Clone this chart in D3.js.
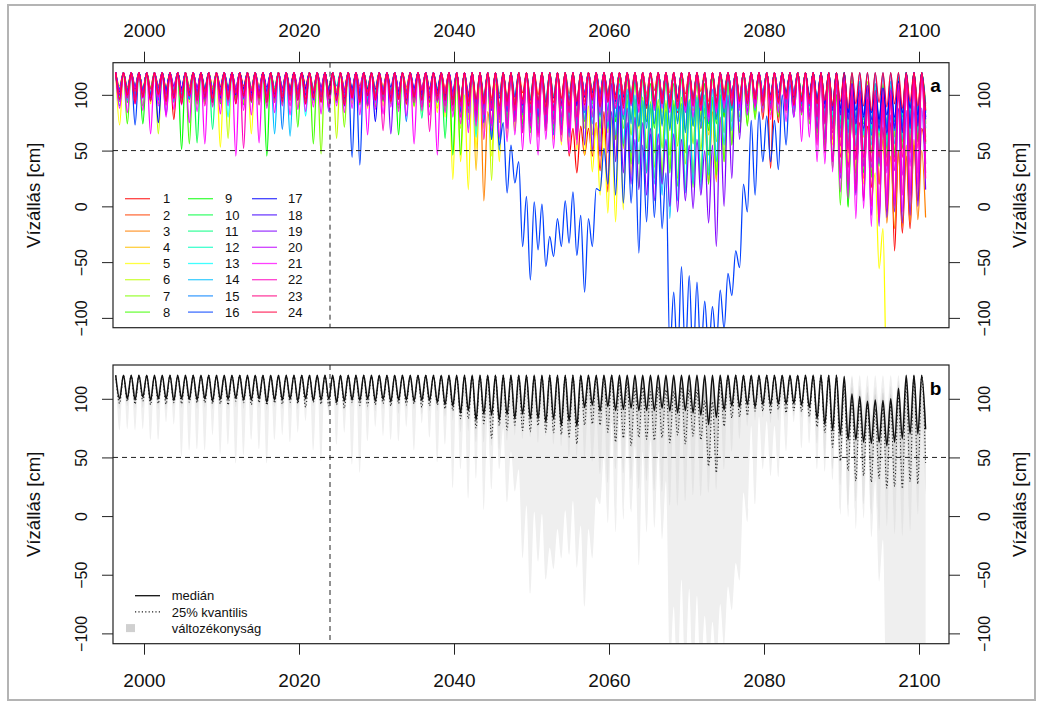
<!DOCTYPE html>
<html lang="hu">
<head>
<meta charset="UTF-8"/>
<title>Vízállás 1996-2100</title>
<script src="https://d3js.org/d3.v7.min.js"></script>
<style>
    body { margin: 0; background: #fff; }
    svg { display: block; }
</style>
</head>
<body>
<script>
    // years on the x axis, one seasonal cycle per year
    var firstYear = 1996;
    var lastYear = 2100;
    var spill = 120;        // annual maximum when the lake is full
    var maxFrom = 2040;     // the max arrays below start in this year
    var nowYear = 2024;     // vertical dashed line
    var critical = 50;      // horizontal dashed line
    var xTicks = [2000, 2020, 2040, 2060, 2080, 2100];
    var yTicks = [-100, -50, 0, 50, 100];
    var seriesNames = d3.range(1, 25).map(String);
    var statNames = ["medián", "25% kvantilis", "változékonyság"];

    // annual minimum water level [cm] of each run, 1996..2100
    var min01 = [104, 99, 106, 101, 97, 108, 100, 78, 103, 98,
        105, 100, 96, 107, 102, 99, 104, 95, 106, 100,
        98, 105, 101, 97, 108, 103, 99, 104, 96, 102,
        100, 95, 106, 101, 98, 104, 97, 103, 99, 105,
        101, 96, 104, 99, 92, 98, 88, 95, 90, 86,
        93, 85, 91, 88, 80, 84, 83, 78, 45, 30,
        46, 45, 32, 13, 60, 88, 92, 85, 94, 90,
        96, 88, 84, 95, 90, 92, 86, 80, 91, 95,
        89, 93, 85, 78, 34, 75, 88, 92, 90, 95,
        82, 78, 60, 44, 35, 30, 25, 17, 20, -5,
        -40, -24, -20, 5, 48];
    var min02 = [106, 103, 108, 104, 101, 107, 105, 102, 96, 104,
        101, 106, 103, 99, 105, 102, 108, 104, 100, 97,
        105, 102, 107, 101, 104, 99, 106, 103, 101, 105,
        102, 108, 100, 104, 106, 101, 103, 107, 99, 104,
        106, 102, 105, 100, 96, 102, 94, 99, 97, 101,
        98, 95, 102, 97, 100, 94, 99, 96, 101, 92,
        101, 104, 97, 102, 96, 100, 103, 98, 101, 104,
        99, 102, 96, 101, 98, 103, 94, 99, 104, 100,
        99, 102, 97, 100, 95, 101, 98, 103, 99, 96,
        94, 92, 90, 88, 84, 80, 78, 78, 76, 74,
        76, 80, 84, 88, 92];
    var min03 = [103, 107, 100, 105, 102, 98, 106, 103, 100, 104,
        99, 104, 107, 101, 97, 105, 102, 106, 103, 100,
        104, 101, 97, 106, 102, 105, 100, 103, 98, 104,
        101, 97, 104, 100, 106, 98, 103, 101, 96, 102,
        99, 103, 95, 90, 84, 78, 70, 5, 60, 75,
        82, 88, 80, 76, 85, 79, 83, 74, 80, 77,
        98, 100, 94, 98, 96, 100, 98, 92, 100, 96,
        98, 92, 96, 90, 86, 70, 20, 24, 80, 92,
        94, 96, 92, 98, 94, 97, 99, 95, 97, 93,
        80, 76, 70, 62, 55, 48, 40, 30, 20, -15,
        -20, -18, -15, -12, -10];
    var min04 = [108, 104, 106, 102, 107, 104, 100, 106, 103, 108,
        104, 102, 106, 108, 103, 100, 105, 102, 107, 104,
        101, 106, 104, 102, 107, 103, 105, 100, 104, 106,
        103, 100, 105, 107, 102, 104, 99, 106, 103, 101,
        104, 98, 100, 92, 86, 80, 32, 70, 62, 78,
        85, 80, 88, 84, 90, 86, 82, 88, 85, 80,
        100, 96, 102, 98, 94, 100, 92, 98, 95, 90,
        96, 92, 88, 94, 86, 80, 64, 22, 82, 94,
        96, 98, 94, 100, 96, 99, 101, 97, 99, 95,
        88, 84, 82, 78, 74, 70, 68, 66, 64, 62,
        64, 68, 72, 70, 76];
    var min05 = [73, 98, 94, 100, 92, 96, 90, 98, 93, 97,
        91, 95, 99, 53, 94, 97, 92, 65, 96, 90,
        95, 92, 97, 89, 96, 93, 98, 91, 94, 90,
        96, 92, 88, 95, 90, 93, 87, 94, 89, 85,
        90, 84, 80, 24, 40, 15, 52, 60, 45, 40,
        62, 70, 66, 72, 64, 68, 60, 55, 58, 50,
        46, 31, 10, -6, -14, -3, 28, 70, 80, 88,
        84, 90, 86, 92, 88, 82, 76, 84, 90, 94,
        92, 95, 96, 98, 94, 97, 95, 99, 96, 92,
        70, 62, 55, 48, 40, 30, 20, 5, -56, -160,
        -170, -180, -185, -190, -195];
    var min06 = [96, 100, 92, 98, 94, 65, 99, 95, 101, 93,
        97, 92, 100, 95, 61, 98, 94, 99, 91, 96,
        93, 99, 95, 101, 92, 97, 94, 88, 61, 96,
        92, 98, 94, 90, 97, 93, 99, 91, 95, 89,
        94, 88, 92, 85, 70, 78, 65, 72, 23, 60,
        74, 68, 76, 70, 78, 72, 66, 74, 68, 62,
        70, 64, 58, 66, 40, 52, 45, 38, 30, 35,
        28, 34, 25, 38, 30, 22, 32, 28, 40, 55,
        66, 74, 80, 86, 82, 88, 84, 90, 86, 82,
        78, 75, 72, 68, 64, 66, 62, 60, 64, 60,
        64, 66, 70, 72, 74];
    var min07 = [99, 102, 96, 104, 100, 97, 103, 99, 95, 101,
        98, 104, 100, 96, 102, 99, 105, 97, 101, 95,
        100, 96, 103, 98, 101, 97, 47, 99, 94, 71,
        98, 102, 95, 100, 97, 103, 96, 99, 101, 94,
        98, 95, 100, 92, 88, 94, 82, 90, 86, 80,
        88, 82, 90, 84, 78, 86, 80, 75, 82, 76,
        88, 92, 86, 82, 76, 70, 64, 58, 52, 48,
        52, 46, 54, 48, 56, 50, 46, 58, 66, 76,
        80, 86, 90, 94, 96, 98, 94, 96, 98, 95,
        86, 82, 78, 74, 70, 66, 64, 68, 62, 60,
        62, 68, 72, 70, 74];
    var min08 = [94, 74, 97, 90, 95, 92, 98, 93, 96, 56,
        92, 97, 90, 95, 93, 98, 91, 96, 94, 90,
        95, 91, 97, 71, 93, 56, 96, 90, 95, 92,
        97, 91, 94, 89, 96, 92, 88, 95, 90, 93,
        89, 94, 86, 90, 46, 84, 78, 82, 75, 80,
        72, 78, 70, 66, 74, 68, 72, 64, 70, 66,
        76, 80, 70, 72, 60, 54, 38, 17, 30, 25,
        22, 30, 18, 15, 17, 26, 20, 28, 40, 55,
        66, 72, 78, 84, 86, 80, 88, 84, 82, 74,
        60, 50, 34, 1, -1, 20, 36, 48, 42, 52,
        48, 58, 52, 60, 56];
    var min09 = [97, 93, 99, 74, 95, 100, 94, 97, 51, 96,
        99, 94, 97, 92, 100, 95, 98, 93, 96, 45,
        97, 93, 99, 95, 92, 98, 94, 100, 96, 93,
        99, 95, 92, 97, 94, 100, 64, 96, 93, 98,
        94, 97, 90, 46, 80, 86, 78, 84, 72, 80,
        76, 82, 74, 70, 78, 72, 68, 76, 70, 64,
        86, 82, 84, 80, 76, 80, 78, 72, 76, 70,
        74, 70, 76, 68, 72, 76, 68, 74, 80, 86,
        88, 90, 92, 94, 96, 92, 96, 94, 90, 86,
        66, 55, 40, 30, 0, 12, 30, 26, 36, 44,
        44, 52, 50, 58, 62];
    var min10 = [101, 105, 99, 103, 106, 100, 104, 98, 102, 105,
        57, 101, 105, 99, 103, 106, 100, 104, 98, 102,
        105, 100, 103, 98, 104, 101, 99, 105, 102, 98,
        104, 100, 106, 99, 103, 97, 105, 101, 98, 104,
        100, 96, 61, 98, 90, 95, 86, 92, 88, 84,
        90, 86, 82, 88, 84, 80, 86, 78, 84, 80,
        98, 102, 96, 100, 94, 98, 92, 97, 94, 90,
        96, 90, 94, 88, 92, 90, 84, 90, 96, 99,
        96, 99, 97, 100, 98, 95, 99, 97, 98, 94,
        86, 82, 80, 76, 72, 68, 74, 70, 74, 72,
        76, 80, 84, 82, 88];
    var min11 = [100, 104, 98, 103, 101, 105, 99, 102, 106, 100,
        103, 98, 69, 104, 100, 102, 97, 105, 101, 99,
        102, 106, 100, 97, 103, 99, 104, 101, 98, 103,
        99, 104, 101, 97, 103, 100, 96, 102, 98, 79,
        101, 97, 94, 99, 92, 88, 94, 86, 90, 85,
        88, 84, 90, 82, 86, 80, 84, 88, 82, 78,
        98, 94, 100, 96, 92, 98, 90, 96, 88, 94,
        94, 97, 90, 95, 92, 96, 88, 94, 99, 101,
        94, 96, 92, 98, 94, 99, 95, 97, 92, 90,
        86, 82, 80, 76, 72, 70, 66, 64, 68, 66,
        70, 72, 76, 80, 84];
    var min12 = [106, 102, 108, 104, 101, 107, 103, 105, 100, 106,
        103, 107, 101, 105, 108, 102, 104, 100, 106, 103,
        107, 101, 105, 103, 99, 106, 102, 104, 108, 101,
        105, 102, 107, 100, 104, 106, 101, 103, 99, 105,
        102, 106, 98, 103, 96, 100, 92, 98, 94, 99,
        95, 100, 93, 97, 91, 96, 99, 92, 97, 94,
        102, 98, 101, 96, 100, 97, 102, 94, 99, 96,
        100, 94, 98, 92, 96, 90, 88, 94, 98, 101,
        98, 101, 97, 102, 98, 101, 97, 103, 99, 96,
        96, 92, 90, 86, 84, 80, 78, 76, 80, 74,
        78, 82, 86, 84, 90];
    var min13 = [102, 98, 104, 100, 96, 103, 99, 105, 101, 97,
        104, 100, 98, 103, 80, 101, 97, 104, 99, 102,
        98, 103, 100, 96, 81, 102, 99, 95, 103, 100,
        97, 102, 99, 104, 98, 95, 101, 97, 103, 99,
        96, 100, 94, 98, 88, 70, 62, 80, 86, 90,
        92, 88, 94, 86, 90, 84, 88, 92, 86, 82,
        102, 98, 97, 100, 94, 98, 92, 97, 90, 94,
        90, 93, 86, 92, 88, 92, 82, 88, 95, 99,
        95, 97, 98, 100, 96, 101, 97, 99, 95, 93,
        90, 86, 82, 78, 72, 68, 64, 70, 66, 72,
        70, 76, 80, 78, 84];
    var min14 = [99, 95, 101, 97, 102, 96, 100, 94, 98, 103,
        97, 101, 95, 99, 93, 100, 96, 102, 98, 94,
        65, 99, 63, 97, 101, 95, 100, 96, 93, 99,
        95, 100, 97, 93, 99, 96, 101, 94, 98, 92,
        97, 93, 95, 90, 84, 88, 80, 86, 60, 82,
        84, 80, 86, 78, 82, 76, 80, 74, 78, 72,
        78, 74, 80, 70, 64, 56, 48, 38, 30, 20,
        10, -11, 5, 12, 20, 15, 28, 40, 55, 68,
        76, 82, 86, 88, 90, 85, 92, 88, 86, 82,
        78, 74, 70, 64, 58, 54, 50, 55, 50, 54,
        56, 60, 64, 66, 70];
    var min15 = [90, 101, 97, 103, 99, 95, 102, 98, 100, 96,
        102, 98, 94, 100, 97, 103, 99, 95, 101, 97,
        99, 69, 101, 96, 100, 97, 102, 85, 99, 95,
        101, 97, 94, 100, 96, 102, 98, 76, 100, 95,
        99, 95, 97, 92, 86, 90, 82, 88, 74, 50,
        70, 76, 68, 72, 66, 70, 64, 68, 62, 66,
        84, 88, 82, 86, 80, 78, 74, 72, 70, 74,
        72, 68, 74, 66, 72, 70, 74, 78, 84, 88,
        90, 92, 94, 96, 92, 97, 94, 96, 92, 90,
        80, 76, 74, 70, 66, 64, 68, 64, 68, 64,
        68, 72, 70, 76, 80];
    var min16 = [100, 104, 73, 102, 98, 105, 101, 97, 103, 99,
        104, 100, 96, 103, 99, 105, 101, 98, 104, 100,
        97, 103, 99, 105, 100, 96, 102, 98, 95, 90,
        44, 37, 90, 98, 102, 97, 100, 95, 99, 96,
        101, 97, 94, 98, 85, 90, 80, 75, 60, 55,
        12, 21, -36, -66, -39, -54, -45, -36, -33, -44,
        -77, -36, 14, 20, 10, 3, 3, -42, -14, -10,
        -20, -130, -140, -135, -140, -135, -130, -125, -110, -80,
        -55, -5, 10, 40, 40, 33, 55, 80, 95, 100,
        96, 92, 88, 84, 80, 76, 82, 78, 74, 70,
        72, 66, 70, 75, 80];
    var min17 = [103, 99, 105, 101, 97, 75, 104, 100, 106, 102,
        98, 105, 101, 97, 104, 100, 106, 102, 99, 103,
        101, 97, 104, 100, 106, 102, 98, 104, 100, 97,
        103, 99, 105, 76, 101, 97, 104, 100, 106, 102,
        98, 104, 100, 96, 92, 98, 88, 94, 90, 86,
        92, 88, 94, 86, 90, 84, 88, 92, 86, 90,
        98, 102, 96, 100, 94, 98, 92, 96, 90, 94,
        96, 92, 97, 90, 94, 92, 86, 92, 97, 100,
        94, 96, 98, 95, 100, 96, 102, 98, 94, 97,
        95, 92, 90, 88, 84, 86, 80, 84, 78, 82,
        80, 84, 88, 82, 86];
    var min18 = [105, 101, 107, 103, 100, 106, 102, 108, 104, 100,
        106, 103, 100, 107, 104, 101, 105, 99, 103, 107,
        102, 106, 104, 100, 105, 101, 107, 103, 99, 104,
        106, 102, 100, 105, 101, 107, 103, 99, 104, 100,
        105, 101, 98, 103, 94, 99, 90, 96, 92, 97,
        94, 98, 91, 95, 89, 93, 97, 90, 95, 92,
        102, 98, 101, 96, 100, 94, 98, 92, 96, 91,
        99, 94, 97, 90, 96, 92, 88, 94, 99, 101,
        95, 98, 95, 100, 97, 102, 99, 101, 97, 94,
        92, 88, 86, 82, 78, 74, 70, 74, 70, 66,
        70, 68, 74, 72, 78];
    var min19 = [100, 104, 98, 102, 99, 103, 82, 101, 97, 104,
        100, 96, 103, 99, 105, 101, 97, 103, 100, 96,
        102, 98, 104, 100, 96, 103, 99, 101, 97, 102,
        98, 104, 100, 96, 102, 65, 99, 103, 97, 101,
        97, 102, 95, 99, 90, 94, 84, 90, 86, 82,
        85, 80, 84, 76, 80, 74, 78, 70, 66, 60,
        55, 50, 45, 48, 40, 30, 20, 15, 10, 5,
        20, 0, -5, 5, -2, 10, -15, -36, 0, 25,
        60, 85, 90, 94, 88, 92, 86, 90, 84, 80,
        70, 60, 40, 25, 15, 10, 5, -8, -18, -10,
        -5, -15, -8, 0, 15];
    var min20 = [104, 100, 106, 102, 98, 105, 101, 107, 103, 99,
        105, 101, 98, 104, 100, 106, 102, 98, 105, 101,
        99, 104, 100, 106, 102, 98, 105, 101, 97, 103,
        100, 106, 102, 98, 104, 100, 105, 99, 103, 106,
        101, 97, 103, 99, 92, 96, 88, 94, 90, 86,
        90, 86, 92, 84, 88, 82, 86, 80, 84, 78,
        100, 96, 98, 94, 97, 92, 95, 90, 94, 88,
        92, 88, 91, 84, 90, 86, 80, 86, 92, 97,
        94, 96, 98, 100, 96, 99, 96, 100, 95, 92,
        84, 78, 70, 62, 52, 42, 36, 35, 38, 30,
        32, 28, 36, 30, 38];
    var min21 = [88, 84, 92, 86, 65, 90, 80, 87, 91, 75,
        85, 56, 89, 83, 90, 45, 86, 82, 57, 88,
        84, 90, 82, 87, 85, 89, 83, 86, 90, 84,
        88, 82, 64, 87, 83, 89, 85, 81, 56, 86,
        82, 46, 84, 80, 74, 66, 72, 60, 68, 62,
        58, 64, 50, 56, 46, 60, 52, 58, 48, 55,
        86, 80, 84, 76, 88, 82, 90, 84, 92, 86,
        88, 84, 90, 86, 80, 86, 76, 84, 88, 92,
        86, 82, 88, 84, 78, 84, 76, 80, 58, 62,
        40, 38, 31, 13, 7, -11, -2, -18, -14, -2,
        5, -5, 10, 20, 30];
    var min22 = [95, 99, 92, 97, 94, 98, 91, 96, 93, 99,
        94, 90, 97, 93, 98, 92, 52, 95, 91, 97,
        93, 98, 90, 96, 92, 97, 94, 89, 96, 92,
        97, 93, 90, 96, 68, 94, 91, 97, 93, 89,
        67, 94, 90, 86, 80, 84, 76, 82, 74, 78,
        70, 76, 66, 72, 62, 68, 74, 64, 70, 60,
        94, 98, 90, 96, 88, 94, 98, 90, 95, 92,
        96, 92, 88, 95, 90, 86, 82, 88, 94, 97,
        92, 95, 90, 93, 88, 92, 86, 90, 84, 78,
        55, 48, 40, 30, 20, 14, 6, 0, -10, 5,
        0, 10, 5, 15, 25];
    var min23 = [101, 97, 103, 99, 105, 100, 96, 102, 98, 104,
        99, 103, 97, 101, 95, 102, 98, 104, 100, 96,
        103, 99, 95, 101, 97, 104, 100, 96, 102, 98,
        100, 96, 103, 99, 95, 101, 97, 102, 98, 104,
        99, 95, 101, 96, 90, 94, 86, 92, 88, 84,
        90, 86, 92, 84, 88, 82, 86, 90, 84, 80,
        100, 98, 94, 99, 96, 101, 92, 98, 94, 90,
        96, 92, 88, 94, 90, 86, 84, 90, 96, 99,
        96, 98, 100, 95, 98, 93, 96, 99, 95, 92,
        80, 74, 66, 54, 48, 42, 44, 40, 44, 36,
        40, 44, 48, 52, 58];
    var min24 = [96, 100, 93, 98, 95, 101, 94, 97, 92, 99,
        95, 98, 93, 100, 96, 92, 99, 94, 97, 93,
        98, 94, 100, 95, 92, 97, 93, 99, 95, 91,
        97, 93, 99, 95, 100, 94, 96, 92, 98, 95,
        93, 99, 95, 91, 94, 90, 96, 92, 95, 90,
        94, 91, 96, 92, 95, 89, 93, 97, 90, 94,
        91, 95, 89, 93, 96, 90, 94, 92, 88, 95,
        92, 89, 94, 90, 96, 91, 87, 93, 95, 90,
        94, 92, 96, 90, 95, 93, 97, 91, 94, 96,
        92, 95, 90, 94, 88, 92, 90, 86, 93, 89,
        92, 88, 94, 90, 86];

    // annual maximum [cm], 2040..2100, for the runs that do not refill to the spill level
    var max01 = [120, 120, 120, 120, 120, 120, 120, 120, 120, 120,
        120, 120, 120, 120, 120, 70, 72, 70, 75, 85,
        120, 120, 120, 120, 120, 120, 120, 120, 120, 120,
        120, 120, 120, 120, 120, 120, 120, 120, 120, 120,
        120, 120, 120, 120, 120, 120, 120, 120, 110, 100,
        95, 80, 75, 72, 78, 71, 75, 50, 45, 55,
        70];
    var max02 = [120, 120, 120, 120, 120, 120, 120, 120, 120, 120,
        120, 120, 120, 120, 120, 120, 120, 120, 120, 120,
        120, 120, 120, 120, 120, 120, 120, 120, 120, 120,
        120, 120, 120, 120, 120, 120, 120, 120, 120, 120,
        120, 120, 120, 120, 120, 120, 120, 120, 120, 120,
        120, 104, 96, 100, 94, 98, 100, 110, 120, 120,
        120];
    var max03 = [120, 120, 120, 120, 85, 120, 120, 120, 120, 120,
        120, 120, 120, 120, 120, 120, 120, 120, 120, 120,
        120, 120, 120, 120, 120, 120, 120, 120, 120, 120,
        120, 110, 80, 85, 120, 120, 120, 120, 120, 120,
        120, 120, 120, 120, 120, 120, 120, 120, 120, 120,
        120, 115, 105, 95, 80, 60, 45, 50, 55, 60,
        50];
    var max04 = [120, 120, 120, 120, 120, 120, 120, 120, 120, 120,
        120, 120, 120, 120, 120, 120, 120, 120, 120, 120,
        120, 120, 120, 120, 120, 120, 120, 120, 120, 120,
        120, 120, 110, 95, 120, 120, 120, 120, 120, 120,
        120, 120, 120, 120, 120, 120, 120, 120, 120, 120,
        120, 100, 92, 95, 90, 94, 96, 105, 120, 120,
        120];
    var max05 = [120, 100, 120, 120, 120, 110, 120, 120, 120, 120,
        120, 120, 120, 120, 120, 120, 120, 90, 75, 70,
        80, 85, 120, 120, 120, 120, 120, 120, 120, 120,
        120, 120, 120, 120, 120, 120, 120, 120, 120, 120,
        120, 120, 120, 120, 120, 120, 120, 120, 120, 120,
        120, 120, 110, 90, 30, -20, -150, -160, -165, -170,
        -175];
    var max06 = [120, 120, 120, 120, 120, 120, 120, 120, 120, 120,
        120, 120, 120, 120, 120, 120, 120, 120, 120, 120,
        120, 120, 100, 95, 90, 92, 88, 95, 90, 92,
        88, 90, 92, 95, 100, 120, 120, 120, 120, 120,
        120, 120, 120, 120, 120, 120, 120, 120, 120, 120,
        120, 115, 110, 112, 106, 110, 104, 108, 120, 120,
        120];
    var max07 = [120, 120, 120, 120, 120, 120, 120, 120, 120, 120,
        120, 120, 120, 120, 120, 120, 120, 120, 120, 110,
        110, 105, 100, 96, 98, 94, 96, 92, 95, 98,
        96, 100, 94, 98, 105, 120, 120, 120, 120, 120,
        120, 120, 120, 120, 120, 120, 120, 120, 120, 120,
        120, 110, 108, 105, 110, 104, 108, 112, 120, 120,
        120];
    var max08 = [120, 120, 120, 120, 120, 120, 120, 120, 120, 120,
        120, 120, 120, 120, 120, 120, 120, 120, 120, 120,
        110, 100, 95, 90, 92, 88, 90, 86, 92, 88,
        90, 94, 88, 96, 100, 110, 120, 120, 120, 120,
        120, 120, 120, 120, 120, 120, 120, 120, 110, 100,
        95, 100, 104, 105, 100, 108, 104, 115, 120, 120,
        120];
    var max09 = [120, 120, 120, 120, 120, 120, 120, 120, 120, 120,
        120, 120, 120, 120, 120, 120, 120, 120, 120, 120,
        120, 115, 118, 112, 114, 110, 115, 112, 110, 114,
        112, 116, 110, 115, 118, 120, 120, 120, 120, 120,
        120, 120, 120, 120, 120, 120, 120, 120, 120, 110,
        100, 98, 102, 96, 104, 100, 106, 110, 120, 120,
        120];
    var max10 = [120, 120, 120, 120, 120, 120, 120, 120, 120, 120,
        120, 120, 120, 120, 120, 120, 120, 120, 120, 120,
        120, 120, 120, 120, 120, 120, 120, 120, 120, 120,
        120, 120, 120, 120, 120, 120, 120, 120, 120, 120,
        120, 120, 120, 120, 120, 120, 120, 120, 120, 120,
        120, 104, 100, 102, 95, 99, 98, 108, 120, 120,
        120];
    var max11 = [120, 120, 120, 120, 120, 120, 120, 120, 120, 120,
        120, 120, 120, 120, 120, 120, 120, 120, 120, 120,
        120, 120, 120, 120, 120, 120, 120, 120, 120, 120,
        120, 120, 120, 120, 120, 120, 120, 120, 120, 120,
        120, 120, 120, 120, 120, 120, 120, 120, 120, 120,
        115, 98, 94, 96, 92, 95, 96, 104, 120, 120,
        120];
    var max12 = [120, 120, 120, 120, 120, 120, 120, 120, 120, 120,
        120, 120, 120, 120, 120, 120, 120, 120, 120, 120,
        120, 120, 120, 120, 120, 120, 120, 120, 120, 120,
        120, 120, 120, 120, 120, 120, 120, 120, 120, 120,
        120, 120, 120, 120, 120, 120, 120, 120, 120, 120,
        120, 106, 100, 98, 102, 96, 100, 112, 120, 120,
        120];
    var max13 = [120, 120, 120, 120, 120, 120, 120, 120, 120, 120,
        120, 120, 120, 120, 120, 120, 120, 120, 120, 120,
        120, 120, 120, 120, 120, 120, 120, 120, 120, 120,
        120, 120, 120, 120, 120, 120, 120, 120, 120, 120,
        120, 120, 120, 120, 120, 120, 120, 120, 120, 120,
        118, 102, 100, 96, 98, 96, 102, 110, 120, 120,
        120];
    var max14 = [120, 120, 120, 120, 120, 120, 120, 120, 120, 120,
        120, 120, 120, 120, 120, 120, 120, 120, 120, 120,
        120, 110, 105, 100, 95, 92, 88, 85, 90, 92,
        95, 98, 100, 105, 110, 120, 120, 120, 120, 120,
        120, 120, 120, 120, 120, 120, 120, 120, 120, 120,
        120, 110, 112, 108, 110, 106, 112, 116, 120, 120,
        120];
    var max15 = [120, 120, 120, 120, 120, 120, 120, 120, 120, 120,
        120, 120, 120, 120, 120, 120, 120, 120, 120, 120,
        120, 120, 120, 120, 120, 120, 120, 120, 120, 120,
        120, 120, 120, 120, 120, 120, 120, 120, 120, 120,
        120, 120, 120, 120, 120, 120, 120, 120, 120, 120,
        116, 104, 98, 102, 96, 100, 98, 106, 120, 120,
        120];
    var max16 = [120, 120, 120, 120, 120, 120, 75, 55, 40, 9,
        4, 2, -27, -11, 5, 13, -8, -11, 16, 52,
        85, 90, 75, 60, 55, 65, 55, 30, -77, -54,
        -62, -68, -85, -90, -75, -60, -40, 20, 77, 85,
        81, 77, 100, 110, 120, 120, 120, 120, 120, 120,
        120, 120, 120, 120, 120, 120, 120, 120, 120, 120,
        120];
    var max17 = [120, 120, 120, 120, 120, 120, 120, 120, 120, 120,
        120, 120, 120, 120, 120, 120, 120, 120, 120, 120,
        120, 120, 120, 120, 120, 120, 120, 120, 120, 120,
        120, 120, 120, 120, 120, 120, 120, 120, 120, 120,
        120, 120, 120, 120, 120, 120, 120, 120, 120, 120,
        120, 110, 104, 108, 100, 106, 104, 112, 120, 120,
        120];
    var max18 = [120, 120, 120, 120, 120, 120, 120, 120, 120, 120,
        120, 120, 120, 120, 120, 120, 120, 120, 120, 120,
        120, 120, 120, 120, 120, 120, 120, 120, 120, 120,
        120, 120, 120, 120, 120, 120, 120, 120, 120, 120,
        120, 120, 120, 120, 120, 120, 120, 120, 120, 120,
        112, 98, 94, 96, 90, 94, 92, 100, 115, 120,
        120];
    var max19 = [120, 120, 120, 120, 120, 120, 120, 120, 120, 120,
        120, 120, 120, 120, 120, 120, 120, 120, 120, 120,
        110, 100, 88, 80, 75, 70, 65, 60, 65, 60,
        55, 60, 50, 55, 80, 100, 120, 120, 120, 120,
        120, 120, 120, 120, 120, 120, 120, 120, 120, 110,
        100, 92, 88, 90, 84, 88, 82, 88, 86, 90,
        88];
    var max20 = [120, 120, 120, 120, 120, 120, 120, 120, 120, 120,
        120, 120, 120, 120, 120, 120, 120, 120, 120, 120,
        120, 120, 120, 120, 120, 120, 120, 120, 120, 120,
        120, 120, 120, 120, 120, 120, 120, 120, 120, 120,
        120, 120, 120, 120, 120, 120, 120, 120, 120, 120,
        115, 104, 96, 98, 92, 95, 94, 100, 110, 115,
        118];
    var max21 = [120, 120, 120, 120, 120, 120, 120, 120, 120, 120,
        120, 120, 120, 120, 120, 120, 120, 120, 120, 120,
        120, 120, 120, 120, 120, 120, 120, 120, 120, 120,
        120, 120, 120, 120, 120, 120, 120, 120, 120, 120,
        120, 120, 120, 120, 120, 120, 120, 120, 120, 115,
        110, 104, 108, 98, 104, 100, 106, 110, 118, 120,
        120];
    var max22 = [120, 120, 120, 120, 120, 120, 120, 120, 120, 120,
        120, 120, 120, 120, 120, 120, 120, 120, 120, 120,
        120, 120, 120, 120, 120, 120, 120, 120, 120, 120,
        120, 120, 120, 120, 120, 120, 120, 120, 120, 120,
        120, 120, 120, 120, 120, 120, 120, 120, 120, 120,
        112, 110, 102, 108, 100, 105, 104, 110, 120, 120,
        120];
    var max23 = [120, 120, 120, 120, 120, 120, 120, 120, 120, 120,
        120, 120, 120, 120, 120, 120, 120, 120, 120, 120,
        120, 120, 120, 120, 120, 120, 120, 120, 120, 120,
        120, 120, 120, 120, 120, 120, 120, 120, 120, 120,
        120, 120, 120, 120, 120, 120, 120, 120, 120, 120,
        110, 100, 102, 96, 104, 98, 100, 104, 112, 120,
        120];

    var mins = [min01, min02, min03, min04, min05, min06, min07, min08, min09, min10, min11, min12,
                min13, min14, min15, min16, min17, min18, min19, min20, min21, min22, min23, min24];
    var maxs = [max01, max02, max03, max04, max05, max06, max07, max08, max09, max10, max11, max12,
                max13, max14, max15, max16, max17, max18, max19, max20, max21, max22, max23, null];

    var years = d3.range(firstYear, lastYear + 1);
    mins.forEach(function(m, i) {
        if (m.length !== years.length) console.error("min" + (i + 1) + " has " + m.length);
    });
    maxs.forEach(function(m, i) {
        if (m && m.length !== lastYear - maxFrom + 1) console.error("max" + (i + 1) + " has " + m.length);
    });

    // R style rainbow(24)
    var colors = seriesNames.map(function(d, i) {
        return d3.hsl(i * 15, 1, 0.5).formatHex();
    });

    var FONT = "'Liberation Sans', Arial, Helvetica, sans-serif";
    var w = 1042, h = 702;
    var left = 113, right = 949;
    var topA = 62.7, botA = 327.7;
    var topB = 365, botB = 643.7;

    // each year: high water in spring, low water in autumn
    var seriesPts = mins.map(function(m, s) {
        var pts = [];
        years.forEach(function(yr, i) {
            var hi = (maxs[s] && yr >= maxFrom) ? maxs[s][yr - maxFrom] : spill;
            pts.push([yr + 0.35, hi]);
            pts.push([yr + 0.85, m[i]]);
        });
        return pts;
    });
    var times = seriesPts[0].map(function(p) { return p[0]; });
    function quant(p) {
        return times.map(function(t, k) {
            return [t, d3.quantile(seriesPts.map(function(s) { return s[k][1]; }), p)];
        });
    }

    var xScale = d3.scaleLinear().domain([1996, 2103.87]).range([left, right]);
    var yA = d3.scaleLinear().domain([-108.8, 128.8]).range([botA, topA]);
    var yB = d3.scaleLinear().domain([-108.8, 128.8]).range([botB, topB]);

    var svg = d3.select("body").append("svg")
        .attr("width", w).attr("height", h)
        .style("font-family", FONT);

    svg.append("rect")
        .attr("x", 8).attr("y", 5).attr("width", 1027).attr("height", 695)
        .attr("fill", "none").attr("stroke", "#b4b4b4").attr("stroke-width", 2);

    var defs = svg.append("defs");
    defs.append("clipPath").attr("id", "clipA").append("rect")
        .attr("x", left).attr("y", topA).attr("width", right - left).attr("height", botA - topA);
    defs.append("clipPath").attr("id", "clipB").append("rect")
        .attr("x", left).attr("y", topB).attr("width", right - left).attr("height", botB - topB);

    // ---------- panel a ----------
    var lineA = d3.line()
        .x(function(d) { return xScale(d[0]); })
        .y(function(d) { return yA(d[1]); })
        .curve(d3.curveMonotoneX);

    var gA = svg.append("g").attr("clip-path", "url(#clipA)");
    gA.selectAll("path.run")
        .data(seriesPts)
        .enter()
        .append("path")
        .attr("class", "run")
        .attr("d", lineA)
        .attr("fill", "none")
        .attr("stroke", function(d, i) { return colors[i]; })
        .attr("stroke-width", 1.25);

    function refLines(g, y, top, bot) {
        g.append("line")
            .attr("x1", left).attr("x2", right)
            .attr("y1", y(critical)).attr("y2", y(critical))
            .attr("stroke", "#222").attr("stroke-dasharray", "5,4").attr("stroke-width", 1);
        g.append("line")
            .attr("x1", xScale(nowYear)).attr("x2", xScale(nowYear))
            .attr("y1", top).attr("y2", bot)
            .attr("stroke", "#222").attr("stroke-dasharray", "5,4").attr("stroke-width", 1);
    }
    refLines(svg.append("g"), yA, topA, botA);

    // ---------- panel b ----------
    var areaB = d3.area()
        .x(function(d) { return xScale(d[0]); })
        .y0(function(d) { return yB(d[1]); })
        .y1(function(d) { return yB(d[2]); })
        .curve(d3.curveMonotoneX);
    var lineB = d3.line()
        .x(function(d) { return xScale(d[0]); })
        .y(function(d) { return yB(d[1]); })
        .curve(d3.curveMonotoneX);

    var gB = svg.append("g").attr("clip-path", "url(#clipB)");
    [[0, 1, "#efefef"], [0.1, 0.9, "#e4e4e4"], [0.25, 0.75, "#d3d3d3"]].forEach(function(b) {
        var lo = quant(b[0]), hi = quant(b[1]);
        var band = lo.map(function(p, k) { return [p[0], p[1], hi[k][1]]; });
        gB.append("path").datum(band).attr("d", areaB).attr("fill", b[2]);
    });
    gB.append("path").datum(quant(0.25)).attr("d", lineB)
        .attr("fill", "none").attr("stroke", "#222").attr("stroke-width", 1.1)
        .attr("stroke-dasharray", "1.2,2.2");
    gB.append("path").datum(quant(0.5)).attr("d", lineB)
        .attr("fill", "none").attr("stroke", "#111").attr("stroke-width", 1.5);

    refLines(svg.append("g"), yB, topB, botB);

    // ---------- frames and axes ----------
    [[topA, botA], [topB, botB]].forEach(function(p) {
        svg.append("rect")
            .attr("x", left).attr("y", p[0]).attr("width", right - left).attr("height", p[1] - p[0])
            .attr("fill", "none").attr("stroke", "#222").attr("stroke-width", 1.2);
    });

    function styleAxis(g, size) {
        g.attr("font-family", FONT).attr("font-size", size);
        g.select(".domain").remove();
        g.selectAll("line").attr("stroke", "#222");
        g.selectAll("text").attr("fill", "#111");
    }

    svg.append("g")
        .attr("transform", "translate(0," + topA + ")")
        .call(d3.axisTop(xScale).tickValues(xTicks).tickSize(11).tickFormat(d3.format("d")))
        .call(styleAxis, 19)
        .call(function(g) { g.selectAll("text").attr("y", -26.2).attr("dy", 0); });

    svg.append("g")
        .attr("transform", "translate(0," + botB + ")")
        .call(d3.axisBottom(xScale).tickValues(xTicks).tickSize(11).tickFormat(d3.format("d")))
        .call(styleAxis, 19)
        .call(function(g) { g.selectAll("text").attr("y", 43.3).attr("dy", 0); });

    [yA, yB].forEach(function(y) {
        svg.append("g")
            .attr("transform", "translate(" + left + ",0)")
            .call(d3.axisLeft(y).tickValues(yTicks).tickSize(11))
            .call(styleAxis, 16)
            .call(function(g) {
                g.selectAll("text")
                    .attr("x", null).attr("dy", null)
                    .attr("text-anchor", "middle")
                    .attr("transform", "translate(-26.3,0) rotate(-90)");
            });
        svg.append("g")
            .attr("transform", "translate(" + right + ",0)")
            .call(d3.axisRight(y).tickValues(yTicks).tickSize(11))
            .call(styleAxis, 16)
            .call(function(g) {
                g.selectAll("text")
                    .attr("x", null).attr("dy", null)
                    .attr("text-anchor", "middle")
                    .attr("transform", "translate(41,0) rotate(-90)");
            });
    });

    // axis titles
    [[topA, botA], [topB, botB]].forEach(function(p) {
        var cy = (p[0] + p[1]) / 2;
        [39.5, 1026].forEach(function(bx) {
            svg.append("text")
                .attr("transform", "translate(" + bx + "," + cy + ") rotate(-90)")
                .attr("text-anchor", "middle")
                .attr("font-size", 18.6)
                .attr("fill", "#111")
                .text("Vízállás [cm]");
        });
    });

    // panel letters
    svg.append("text").attr("x", 935.5).attr("y", 91.7).attr("text-anchor", "middle")
        .attr("font-size", 19).attr("font-weight", "bold").text("a");
    svg.append("text").attr("x", 935.5).attr("y", 395).attr("text-anchor", "middle")
        .attr("font-size", 19).attr("font-weight", "bold").text("b");

    // ---------- legend a ----------
    var legA = svg.append("g").attr("font-size", 13);
    var colX = [125, 188, 252], labX = [163, 225, 288];
    seriesNames.forEach(function(name, i) {
        var c = Math.floor(i / 8), r = i % 8;
        var yy = 198.7 + r * 16.2;
        legA.append("line")
            .attr("x1", colX[c]).attr("x2", colX[c] + 25)
            .attr("y1", yy).attr("y2", yy)
            .attr("stroke", colors[i]).attr("stroke-opacity", 0.75).attr("stroke-width", 1.3);
        legA.append("text")
            .attr("x", labX[c]).attr("y", yy + 4.6)
            .attr("fill", "#111")
            .text(name);
    });

    // ---------- legend b ----------
    var legB = svg.append("g").attr("font-size", 13);
    var rowB = [595.7, 611.9, 628.1];
    legB.append("line").attr("x1", 135).attr("x2", 160).attr("y1", rowB[0]).attr("y2", rowB[0])
        .attr("stroke", "#111").attr("stroke-width", 1.3);
    legB.append("line").attr("x1", 135).attr("x2", 160).attr("y1", rowB[1]).attr("y2", rowB[1])
        .attr("stroke", "#222").attr("stroke-width", 1.1).attr("stroke-dasharray", "1.2,2.2");
    legB.append("rect").attr("x", 126).attr("y", rowB[2] - 4).attr("width", 9).attr("height", 8)
        .attr("fill", "#d0d0d0");
    statNames.forEach(function(name, i) {
        legB.append("text").attr("x", 171.7).attr("y", rowB[i] + 4.6)
            .attr("fill", "#111").text(name);
    });
</script>
</body>
</html>
